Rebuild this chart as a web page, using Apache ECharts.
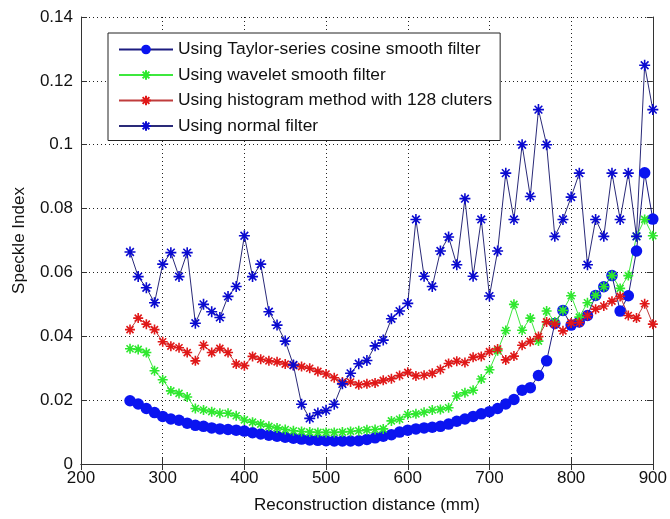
<!DOCTYPE html>
<html><head><meta charset="utf-8">
<script src="https://cdn.jsdelivr.net/npm/echarts@6/dist/echarts.min.js"></script>
<style>html,body{margin:0;padding:0;background:#fff}#c{width:670px;height:519px}</style>
</head><body><div id="c"></div><script>
const distances = [260,270,280,290,300,310,320,330,340,350,360,370,380,390,400,410,420,430,440,450,460,470,480,490,500,510,520,530,540,550,560,570,580,590,600,610,620,630,640,650,660,670,680,690,700,710,720,730,740,750,760,770,780,790,800,810,820,830,840,850,860,870,880,890,900];
const taylorSI = [.0198,.0188,.0174,.0161,.0149,.0141,.0137,.0128,.0121,.0118,.0113,.0110,.0108,.0106,.0103,.0098,.0094,.0090,.0087,.0084,.0081,.0078,.0075,.0074,.0073,.0072,.0072,.0072,.0073,.0077,.0082,.0087,.0092,.0100,.0106,.0110,.0113,.0115,.0118,.0125,.0134,.0141,.0149,.0157,.0164,.0174,.0188,.0202,.0231,.0239,.0277,.0323,.0440,.0481,.0435,.0445,.0465,.0528,.0555,.0590,.0479,.0527,.0667,.0912,.0767];
const waveletSI = [.0361,.0359,.0349,.0292,.0264,.0229,.0221,.0210,.0174,.0169,.0164,.0159,.0159,.0151,.0138,.0131,.0125,.0118,.0113,.0108,.0104,.0102,.0100,.0099,.0099,.0099,.0100,.0102,.0104,.0107,.0108,.0110,.0135,.0140,.0155,.0157,.0162,.0169,.0171,.0176,.0213,.0223,.0231,.0266,.0295,.0355,.0418,.0500,.0419,.0457,.0385,.0479,.0445,.0481,.0527,.0460,.0505,.0528,.0555,.0590,.0550,.0590,.0713,.0766,.0715];
const histogramSI = [.0421,.0457,.0438,.0421,.0383,.0369,.0364,.0349,.0323,.0372,.0349,.0362,.0349,.0313,.0308,.0337,.0328,.0323,.0320,.0313,.0309,.0305,.0300,.0290,.0282,.0270,.0257,.0257,.0248,.0251,.0254,.0262,.0267,.0277,.0287,.0276,.0278,.0284,.0296,.0315,.0322,.0318,.0334,.0337,.0352,.0360,.0326,.0338,.0372,.0384,.0399,.0445,.0438,.0417,.0442,.0443,.0465,.0485,.0495,.0510,.0525,.0465,.0457,.0502,.0438];
const normalSI = [.0664,.0587,.0552,.0505,.0626,.0662,.0587,.0662,.0441,.0500,.0477,.0459,.0525,.0556,.0715,.0587,.0626,.0477,.0435,.0385,.0310,.0187,.0143,.0160,.0168,.0187,.0251,.0284,.0314,.0324,.0370,.0388,.0455,.0479,.0503,.0766,.0588,.0556,.0667,.0711,.0624,.0831,.0588,.0766,.0526,.0667,.0911,.0766,.1000,.0838,.1110,.1000,.0713,.0766,.0836,.0911,.0624,.0766,.0713,.0911,.0766,.0911,.0713,.1249,.1110];
const seriesNames = ['Using Taylor-series cosine smooth filter','Using wavelet smooth filter','Using histogram method with 128 cluters','Using normal filter'];
const xTicks = {min:200,max:900,interval:100};
const yTicks = {min:0,max:0.14,interval:0.02};

const FONT = "'Liberation Sans', Arial, sans-serif";
const FS = 17;
const STAR = 'path://M10,0L10,20M0,10L20,10M3,3L17,17M3,17L17,3';
function pairs(vals){ return distances.map((d,i)=>[d, vals[i]]); }

const chart = echarts.init(document.getElementById('c'));
const axisCommon = {
  axisLine:{show:true,lineStyle:{color:'#333',width:1}},
  axisTick:{show:true,inside:true,length:6,lineStyle:{color:'#333'}},
};
chart.setOption({
  animation:false,
  backgroundColor:'#fff',
  textStyle:{fontFamily:FONT},
  grid:{left:81,right:13,top:17,bottom:47,containLabel:false},
  legend:{
    orient:'vertical',left:108,top:33,
    padding:[8,8,6,10],itemGap:8.5,itemWidth:54,itemHeight:12,
    backgroundColor:'#fff',borderColor:'#222',borderWidth:1,
    textStyle:{fontSize:17.4,fontFamily:FONT,color:'#111'},
    data:seriesNames
  },
  xAxis:[
    Object.assign({type:'value',min:xTicks.min,max:xTicks.max,interval:xTicks.interval,
      name:'Reconstruction distance (mm)',nameLocation:'middle',nameGap:33,
      nameTextStyle:{fontSize:FS,fontFamily:FONT,color:'#111'},
      splitLine:{show:true,lineStyle:{color:'#222',type:[1,3],width:1}}},axisCommon,
      {axisLabel:{color:'#111',fontSize:FS,fontFamily:FONT,margin:6}}),
    Object.assign({type:'value',position:'top',min:xTicks.min,max:xTicks.max,interval:xTicks.interval,
      splitLine:{show:false}},axisCommon,{axisLabel:{show:false}})
  ],
  yAxis:[
    Object.assign({type:'value',min:yTicks.min,max:yTicks.max,interval:yTicks.interval,
      name:'Speckle Index',nameLocation:'middle',nameGap:53,
      nameTextStyle:{fontSize:FS,fontFamily:FONT,color:'#111'},
      splitLine:{show:true,lineStyle:{color:'#222',type:[1,3],width:1}}},axisCommon,
      {axisLabel:{color:'#111',fontSize:FS,fontFamily:FONT,margin:8}}),
    Object.assign({type:'value',position:'right',min:yTicks.min,max:yTicks.max,interval:yTicks.interval,
      splitLine:{show:false}},axisCommon,{axisLabel:{show:false}})
  ],
  series:[
    {name:seriesNames[0],type:'line',data:pairs(taylorSI),symbol:'circle',symbolSize:11.5,
      lineStyle:{color:'#1c1c80',width:1},itemStyle:{color:'#0a14f0'}},
    {name:seriesNames[1],type:'line',data:pairs(waveletSI),symbol:STAR,symbolSize:10,
      lineStyle:{color:'#3ee83e',width:1},itemStyle:{color:'#2ee82e',borderColor:'#2ee82e',borderWidth:1.6}},
    {name:seriesNames[2],type:'line',data:pairs(histogramSI),symbol:STAR,symbolSize:10,
      lineStyle:{color:'#c03c3c',width:1},itemStyle:{color:'#e01818',borderColor:'#e01818',borderWidth:1.6}},
    {name:seriesNames[3],type:'line',data:pairs(normalSI),symbol:STAR,symbolSize:11,
      lineStyle:{color:'#2a2a78',width:1},itemStyle:{color:'#0a0ad0',borderColor:'#0a0ad0',borderWidth:1.6}}
  ]
});
</script></body></html>
